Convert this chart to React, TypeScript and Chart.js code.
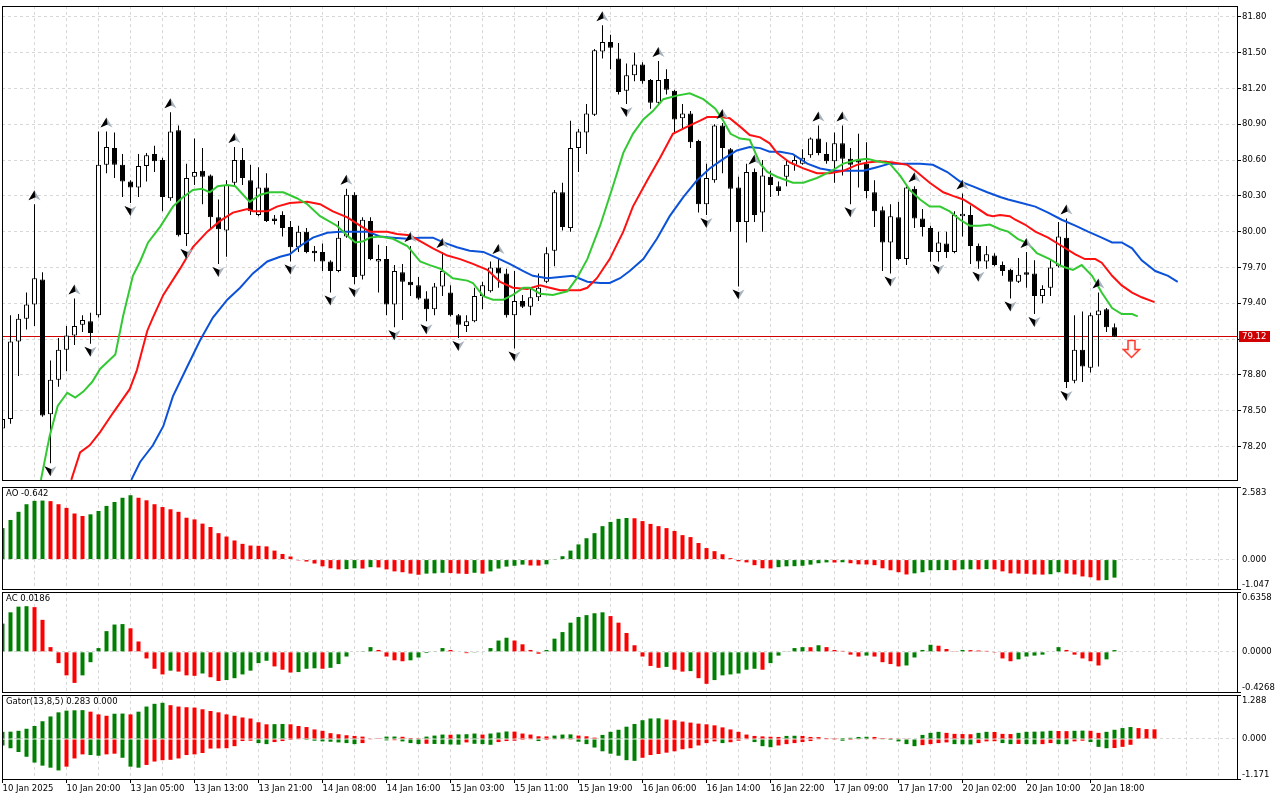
import React, { useEffect, useRef } from "react";
import { Chart, registerables } from "chart.js";

Chart.register(...registerables);

const FONT = "'DejaVu Sans', sans-serif";
Chart.defaults.font.family = FONT;
Chart.defaults.font.size = 8.5;

// ---- price data (hourly candles, bar index 0..139) ----
const opens = [
  78.35, 78.43, 79.08, 79.27, 79.39, 79.6, 78.47, 78.76, 79.01, 79.13, 79.22, 79.25, 79.3, 80.56, 80.7, 80.56, 80.42, 80.37, 80.55, 80.65,
  80.6, 80.28, 80.85, 79.98, 80.46, 80.51, 80.47, 80.12, 80.01, 80.41, 80.6, 80.43, 80.14, 80.37, 80.11, 80.14, 80.04, 79.87, 80.0, 79.84,
  79.83, 79.75, 79.67, 79.96, 80.31, 79.63, 80.09, 79.75, 79.77, 79.39, 79.66, 79.58, 79.55, 79.44, 79.35, 79.54, 79.49, 79.3, 79.21, 79.25,
  79.46, 79.5, 79.7, 79.65, 79.3, 79.42, 79.37, 79.45, 79.58, 79.84, 80.33, 80.03, 80.7, 80.83, 80.98, 81.51, 81.59, 81.45, 81.18, 81.31,
  81.4, 81.27, 81.08, 81.28, 81.18, 80.95, 80.99, 80.76, 80.23, 80.43, 80.89, 80.69, 80.37, 80.08, 80.5, 80.16, 80.46, 80.38, 80.46, 80.56,
  80.57, 80.64, 80.78, 80.65, 80.59, 80.74, 80.61, 80.6, 80.57, 80.33, 80.18, 79.91, 80.12, 79.77, 80.36, 80.11, 80.03, 79.83, 79.9, 79.83,
  80.13, 80.14, 79.88, 79.75, 79.8, 79.72, 79.68, 79.58, 79.66, 79.65, 79.46, 79.53, 79.71, 79.95, 78.75, 79.01, 78.86, 79.3, 79.35, 79.2,
];
const highs = [
  78.45, 79.3, 79.31, 79.49, 80.23, 79.66, 78.92, 79.11, 79.21, 79.44, 79.3, 79.32, 80.84, 80.84, 80.83, 80.65, 80.43, 80.65, 80.66, 80.72,
  80.62, 81.0, 80.89, 80.57, 80.78, 80.7, 80.48, 80.27, 80.43, 80.71, 80.7, 80.56, 80.54, 80.49, 80.14, 80.17, 80.09, 80.05, 80.03, 79.88,
  79.9, 79.76, 80.09, 80.36, 80.33, 80.12, 80.12, 79.89, 79.88, 79.72, 79.73, 79.88, 79.62, 79.5, 79.57, 79.83, 79.55, 79.31, 79.3, 79.53,
  79.58, 79.75, 79.78, 79.69, 79.67, 79.47, 79.52, 79.65, 79.87, 80.35, 80.41, 80.93, 80.86, 81.07, 81.53, 81.73, 81.65, 81.58, 81.41, 81.5,
  81.42, 81.28, 81.43, 81.36, 81.19, 81.07, 81.01, 80.77, 80.57, 80.9, 80.91, 80.7, 80.46, 80.57, 80.53, 80.6, 80.51, 80.42, 80.6, 80.64,
  80.69, 80.79, 80.89, 80.75, 80.83, 80.89, 80.7, 80.82, 80.75, 80.43, 80.21, 80.23, 80.25, 80.38, 80.38, 80.19, 80.05, 80.0, 80.0, 80.17,
  80.32, 80.22, 79.9, 79.88, 79.82, 79.75, 79.69, 79.78, 79.83, 79.76, 79.55, 79.77, 80.08, 80.11, 79.3, 79.33, 79.32, 79.49, 79.36, 79.23,
];
const lows = [
  78.3, 78.39, 78.79, 79.18, 79.21, 78.45, 78.06, 78.7, 78.83, 79.05, 79.16, 79.06, 79.28, 80.49, 80.45, 80.29, 80.24, 80.29, 80.42, 80.5,
  80.17, 80.26, 79.96, 79.88, 80.39, 80.23, 80.02, 79.73, 79.79, 80.39, 80.39, 80.14, 80.13, 80.08, 80.06, 79.96, 79.75, 79.83, 79.82, 79.75,
  79.67, 79.49, 79.66, 79.95, 79.56, 79.6, 79.76, 79.49, 79.3, 79.2, 79.26, 79.46, 79.43, 79.25, 79.3, 79.46, 79.29, 79.11, 79.16, 79.24,
  79.35, 79.49, 79.53, 79.28, 79.02, 79.36, 79.3, 79.42, 79.57, 79.71, 80.01, 80.0, 80.5, 80.65, 80.97, 81.45, 81.36, 81.15, 81.07, 81.26,
  81.24, 81.03, 81.07, 81.15, 80.83, 80.86, 80.7, 80.16, 80.14, 80.41, 80.49, 80.0, 79.54, 79.91, 80.08, 80.0, 80.29, 80.3, 80.38, 80.51,
  80.56, 80.62, 80.64, 80.57, 80.41, 80.47, 80.23, 80.37, 80.28, 80.04, 79.67, 79.65, 79.76, 79.72, 80.03, 79.96, 79.75, 79.75, 79.78, 79.82,
  79.96, 79.73, 79.69, 79.69, 79.71, 79.63, 79.44, 79.57, 79.53, 79.31, 79.4, 79.46, 79.7, 78.69, 78.73, 78.74, 78.82, 78.87, 79.16, 79.12,
];
const closes = [
  78.43, 79.08, 79.27, 79.39, 79.61, 78.46, 78.76, 79.01, 79.13, 79.21, 79.26, 79.15, 80.56, 80.71, 80.56, 80.42, 80.37, 80.55, 80.64, 80.59,
  80.29, 80.84, 79.97, 80.45, 80.5, 80.46, 80.12, 80.02, 80.39, 80.6, 80.45, 80.17, 80.37, 80.09, 80.09, 80.03, 79.87, 80.0, 79.83, 79.82,
  79.75, 79.67, 79.95, 80.31, 79.62, 80.1, 79.77, 79.77, 79.39, 79.67, 79.58, 79.55, 79.44, 79.35, 79.54, 79.67, 79.3, 79.22, 79.25, 79.46,
  79.55, 79.7, 79.65, 79.3, 79.42, 79.37, 79.45, 79.53, 79.82, 80.33, 80.04, 80.7, 80.84, 80.99, 81.52, 81.59, 81.54, 81.17, 81.31, 81.4,
  81.26, 81.08, 81.27, 81.19, 80.94, 80.99, 80.75, 80.23, 80.45, 80.89, 80.7, 80.36, 80.08, 80.5, 80.14, 80.47, 80.39, 80.34, 80.56, 80.6,
  80.62, 80.78, 80.66, 80.59, 80.74, 80.61, 80.56, 80.58, 80.34, 80.17, 79.91, 80.13, 79.77, 80.37, 80.11, 80.04, 79.83, 79.91, 79.83, 80.14,
  80.15, 79.88, 79.75, 79.81, 79.72, 79.67, 79.58, 79.64, 79.64, 79.46, 79.52, 79.7, 79.96, 78.74, 79.01, 78.87, 79.3, 79.34, 79.2, 79.12,
];

// ---- Alligator lines, [bar, price] ----
const jawPoints = [
  [16.1, 77.92], [17.2, 78.07], [18.8, 78.21], [20.1, 78.37], [21.3, 78.62], [23.1, 78.87], [24.7, 79.09], [26.3, 79.28], [28.1, 79.43],
  [29.7, 79.53], [31.3, 79.65], [33.1, 79.75], [34.7, 79.79], [35.9, 79.81], [37.2, 79.88], [38.8, 79.95], [40.6, 79.99], [42.2, 80.0],
  [45.6, 80.0], [47.2, 79.96], [48.8, 79.95], [50.6, 79.94], [52.2, 79.95], [53.8, 79.95], [55.1, 79.91], [56.8, 79.87], [58.4, 79.84],
  [60.1, 79.83], [61.8, 79.78], [63.4, 79.73], [65.1, 79.67], [66.3, 79.63], [68.1, 79.61], [69.7, 79.62], [71.3, 79.63], [73.1, 79.58],
  [74.7, 79.57], [75.9, 79.57], [77.2, 79.61], [78.4, 79.67], [80.1, 79.77], [81.8, 79.94], [83.4, 80.13], [85.1, 80.29], [86.8, 80.43],
  [88.4, 80.53], [90.1, 80.61], [91.8, 80.68], [93.4, 80.71], [94.7, 80.7], [95.9, 80.67], [97.2, 80.67], [98.8, 80.65], [100.6, 80.57],
  [102.2, 80.53], [103.8, 80.51], [106.0, 80.51], [107.6, 80.51], [109.3, 80.54], [110.9, 80.57], [114.7, 80.57], [116.3, 80.56],
  [118.1, 80.5], [119.7, 80.42], [121.3, 80.38], [123.1, 80.33], [124.7, 80.29], [125.7, 80.27], [127.4, 80.24], [129.1, 80.21],
  [130.7, 80.16], [132.4, 80.1], [134.1, 80.05], [135.7, 80.0], [137.4, 79.95], [138.7, 79.91], [139.9, 79.91], [141.2, 79.86],
  [142.4, 79.76], [144.1, 79.67], [145.7, 79.63], [146.9, 79.58],
];
const teethPoints = [
  [8.6, 77.92], [9.7, 78.15], [10.9, 78.21], [12.2, 78.32], [13.8, 78.48], [15.9, 78.68], [16.8, 78.84], [18.1, 79.17], [18.8, 79.28],
  [20.1, 79.47], [22.2, 79.69], [23.8, 79.87], [25.6, 80.0], [27.2, 80.09], [28.8, 80.16], [30.6, 80.19], [31.3, 80.17], [33.1, 80.17],
  [34.3, 80.21], [35.9, 80.24], [38.1, 80.25], [39.7, 80.23], [41.3, 80.17], [43.1, 80.12], [44.7, 80.05], [45.9, 80.0], [48.1, 80.0],
  [49.3, 79.98], [50.9, 79.97], [52.2, 79.92], [53.8, 79.86], [55.6, 79.8], [57.2, 79.77], [58.8, 79.73], [60.6, 79.68], [62.2, 79.58],
  [63.8, 79.53], [65.6, 79.52], [67.2, 79.55], [68.4, 79.53], [69.7, 79.51], [72.2, 79.51], [73.1, 79.53], [74.3, 79.61], [75.9, 79.77],
  [77.6, 80.0], [78.8, 80.21], [80.6, 80.43], [82.2, 80.62], [83.8, 80.82], [85.6, 80.88], [87.2, 80.93], [88.1, 80.96], [89.7, 80.96],
  [90.9, 80.95], [92.2, 80.88], [93.4, 80.81], [94.7, 80.79], [95.9, 80.74], [96.8, 80.66], [98.4, 80.58], [100.1, 80.53], [101.8, 80.49],
  [103.4, 80.49], [105.1, 80.51], [106.8, 80.56], [108.1, 80.58], [109.7, 80.59], [111.3, 80.58], [113.1, 80.56], [114.3, 80.5],
  [115.9, 80.41], [117.6, 80.33], [118.8, 80.3], [120.1, 80.27], [121.3, 80.22], [123.1, 80.14], [123.8, 80.13], [124.7, 80.14],
  [125.9, 80.13], [126.6, 80.1], [127.8, 80.06], [129.1, 80.0], [130.7, 79.95], [132.4, 79.88], [134.1, 79.81], [135.3, 79.77],
  [136.6, 79.77], [137.4, 79.74], [138.7, 79.63], [139.9, 79.55], [141.2, 79.49], [142.4, 79.45], [144.0, 79.41],
];
const lipsPoints = [
  [4.8, 77.92], [5.9, 78.29], [6.9, 78.54], [8.1, 78.65], [9.1, 78.61], [10.1, 78.66], [11.2, 78.74], [12.2, 78.85], [14.1, 78.97],
  [15.1, 79.3], [16.3, 79.63], [17.2, 79.75], [18.2, 79.91], [19.7, 80.04], [21.3, 80.21], [22.4, 80.28], [23.8, 80.35], [24.9, 80.36],
  [25.9, 80.33], [26.9, 80.38], [28.1, 80.39], [29.1, 80.38], [30.9, 80.25], [32.2, 80.31], [33.4, 80.33], [35.1, 80.33], [36.8, 80.28],
  [38.1, 80.23], [39.7, 80.13], [41.8, 80.05], [43.4, 79.95], [44.1, 79.91], [45.1, 79.92], [45.9, 79.95], [47.2, 79.96], [48.8, 79.94],
  [50.6, 79.88], [52.2, 79.75], [53.4, 79.72], [54.7, 79.69], [56.3, 79.61], [58.1, 79.59], [58.8, 79.57], [60.1, 79.46], [61.3, 79.43],
  [62.6, 79.43], [63.8, 79.47], [65.1, 79.53], [65.9, 79.53], [67.2, 79.48], [68.8, 79.47], [70.6, 79.5], [71.8, 79.61], [73.1, 79.77],
  [74.7, 80.05], [76.3, 80.38], [77.6, 80.66], [78.8, 80.82], [80.1, 80.94], [81.3, 81.01], [82.6, 81.11], [84.3, 81.14], [85.9, 81.16],
  [87.6, 81.11], [89.1, 81.03], [90.1, 80.93], [91.0, 80.82], [92.2, 80.78], [93.4, 80.77], [94.7, 80.57], [95.6, 80.5], [96.8, 80.46],
  [98.8, 80.41], [100.1, 80.41], [101.8, 80.45], [103.4, 80.5], [105.1, 80.57], [106.8, 80.6], [108.1, 80.61], [109.3, 80.59],
  [110.9, 80.57], [112.2, 80.47], [113.4, 80.35], [114.7, 80.27], [115.9, 80.21], [117.2, 80.21], [118.4, 80.17], [119.7, 80.1],
  [120.9, 80.05], [122.2, 80.05], [123.4, 80.06], [124.7, 80.02], [125.7, 80.0], [126.9, 79.94], [128.2, 79.9], [129.3, 79.82],
  [130.9, 79.77], [132.4, 79.71], [133.8, 79.68], [134.9, 79.72], [136.2, 79.63], [137.4, 79.49], [138.7, 79.36], [139.9, 79.31],
  [141.2, 79.31], [141.9, 79.29],
];

// ---- fractals (bar indices) and signal ----
const fractalUp = [4, 9, 13, 21, 29, 43, 51, 55, 62, 75, 82, 90, 94, 102, 105, 114, 120, 128, 133, 137];
const fractalDown = [6, 11, 16, 23, 27, 36, 41, 44, 49, 53, 57, 64, 78, 88, 92, 106, 111, 117, 122, 126, 129, 133];
const sellSignalBar = 141;
const sellSignalPrice = 79.09;
const lastPrice = 79.12;

// ---- Awesome Oscillator ----
const aoValues = [
  1.12, 1.41, 1.7, 1.97, 2.09, 2.1, 2.08, 1.97, 1.84, 1.64, 1.55, 1.61, 1.73, 1.91, 2.05, 2.2, 2.29, 2.2, 2.11, 1.97,
  1.87, 1.79, 1.7, 1.49, 1.43, 1.28, 1.16, 0.94, 0.82, 0.68, 0.56, 0.5, 0.49, 0.47, 0.32, 0.2, 0.11, -0.03, -0.07, -0.14,
  -0.24, -0.31, -0.35, -0.34, -0.31, -0.32, -0.27, -0.28, -0.35, -0.42, -0.45, -0.5, -0.54, -0.5, -0.49, -0.47, -0.48, -0.5, -0.51, -0.47,
  -0.5, -0.42, -0.32, -0.25, -0.22, -0.18, -0.21, -0.215, -0.17, 0.01, 0.12, 0.32, 0.54, 0.76, 0.94, 1.19, 1.34, 1.45, 1.48, 1.47,
  1.37, 1.27, 1.19, 1.12, 1.02, 0.87, 0.8, 0.59, 0.41, 0.3, 0.19, 0.05, -0.06, -0.1, -0.2, -0.31, -0.315, -0.27, -0.24, -0.235,
  -0.22, -0.18, -0.13, -0.1, -0.105, -0.095, -0.13, -0.17, -0.175, -0.2, -0.31, -0.38, -0.45, -0.53, -0.49, -0.45, -0.38, -0.375, -0.37, -0.38,
  -0.35, -0.345, -0.35, -0.34, -0.35, -0.42, -0.49, -0.5, -0.505, -0.53, -0.535, -0.52, -0.45, -0.5, -0.53, -0.6, -0.63, -0.74, -0.73, -0.642,
];
// ---- Accelerator Oscillator ----
const acValues = [
  0.3, 0.42, 0.48, 0.485, 0.475, 0.34, 0.05, -0.12, -0.25, -0.33, -0.25, -0.11, 0.04, 0.22, 0.29, 0.295, 0.25, 0.11, -0.07, -0.18,
  -0.24, -0.2, -0.21, -0.25, -0.255, -0.23, -0.27, -0.31, -0.3, -0.28, -0.24, -0.2, -0.12, -0.095, -0.155, -0.19, -0.22, -0.215, -0.18, -0.175,
  -0.18, -0.17, -0.13, -0.05, -0.005, 0.003, 0.05, 0.02, -0.05, -0.09, -0.1, -0.09, -0.06, -0.013, 0.004, 0.04, 0.02, -0.005, -0.014, -0.008,
  -0.006, 0.04, 0.12, 0.15, 0.12, 0.08, 0.02, -0.02, 0.02, 0.14, 0.21, 0.31, 0.37, 0.39, 0.41, 0.42, 0.38, 0.31, 0.2, 0.07,
  -0.05, -0.15, -0.17, -0.16, -0.19, -0.21, -0.205, -0.28, -0.34, -0.3, -0.25, -0.24, -0.23, -0.19, -0.18, -0.19, -0.12, -0.04, 0.007, 0.04,
  0.05, 0.049, 0.07, 0.05, 0.02, 0.01, -0.03, -0.05, -0.04, -0.05, -0.11, -0.13, -0.155, -0.145, -0.06, 0.02, 0.075, 0.065, 0.03, 0.003,
  0.02, 0.018, 0.014, 0.01, -0.002, -0.07, -0.1, -0.08, -0.05, -0.04, -0.03, 0.0, 0.05, 0.02, -0.03, -0.07, -0.1, -0.145, -0.08, 0.0186,
];
// ---- Gator Oscillator (upper above zero, lower as absolute size below zero) ----
const gatorUpper = [
  0.21, 0.215, 0.24, 0.3, 0.38, 0.52, 0.66, 0.78, 0.83, 0.84, 0.845, 0.8, 0.72, 0.68, 0.74, 0.745, 0.72, 0.8, 0.95, 1.03,
  1.06, 0.99, 0.95, 0.93, 0.92, 0.87, 0.82, 0.78, 0.72, 0.68, 0.63, 0.6, 0.49, 0.43, 0.435, 0.44, 0.43, 0.38, 0.35, 0.28,
  0.24, 0.17, 0.14, 0.11, 0.09, 0.07, 0.01, 0.005, 0.07, 0.072, 0.065, 0.03, 0.005, 0.07, 0.1, 0.13, 0.125, 0.135, 0.14, 0.16,
  0.13, 0.16, 0.19, 0.22, 0.215, 0.16, 0.13, 0.08, 0.075, 0.1, 0.13, 0.135, 0.1, 0.08, 0.04, 0.12, 0.21, 0.27, 0.36, 0.44,
  0.55, 0.6, 0.605, 0.57, 0.55, 0.51, 0.48, 0.45, 0.43, 0.4, 0.34, 0.28, 0.21, 0.13, 0.09, 0.076, 0.066, 0.06, 0.09, 0.095,
  0.09, 0.06, 0.055, 0.03, 0.025, 0.03, 0.035, 0.06, 0.065, 0.06, 0.03, 0.025, 0.02, 0.01, 0.015, 0.12, 0.18, 0.21, 0.18, 0.15,
  0.145, 0.14, 0.18, 0.21, 0.205, 0.15, 0.145, 0.18, 0.21, 0.215, 0.22, 0.24, 0.235, 0.23, 0.24, 0.245, 0.24, 0.18, 0.21, 0.27,
  0.32, 0.35, 0.32, 0.29, 0.283,
];
const gatorLower = [
  0.19, 0.27, 0.38, 0.52, 0.69, 0.78, 0.84, 0.92, 0.81, 0.57, 0.45, 0.47, 0.49, 0.45, 0.43, 0.55, 0.81, 0.84, 0.76, 0.66,
  0.62, 0.61, 0.57, 0.47, 0.45, 0.41, 0.28, 0.275, 0.27, 0.21, 0.06, 0.05, 0.12, 0.15, 0.09, 0.06, 0.03, 0.02, 0.03, 0.05,
  0.07, 0.08, 0.1, 0.12, 0.15, 0.12, 0.02, 0.015, 0.04, 0.035, 0.07, 0.12, 0.15, 0.14, 0.145, 0.15, 0.16, 0.165, 0.1, 0.14,
  0.15, 0.17, 0.09, 0.06, 0.05, 0.03, 0.02, 0.06, 0.03, 0.02, 0.01, 0.005, 0.08, 0.15, 0.25, 0.36, 0.43, 0.49, 0.62, 0.64,
  0.55, 0.47, 0.44, 0.4, 0.36, 0.3, 0.27, 0.19, 0.12, 0.07, 0.12, 0.095, 0.05, 0.02, 0.09, 0.21, 0.24, 0.19, 0.15, 0.12,
  0.09, 0.06, 0.02, 0.01, 0.005, 0.05, 0.03, 0.02, 0.01, 0.008, 0.02, 0.03, 0.07, 0.15, 0.21, 0.18, 0.15, 0.12, 0.1, 0.15,
  0.155, 0.16, 0.12, 0.07, 0.065, 0.12, 0.15, 0.145, 0.15, 0.155, 0.15, 0.12, 0.15, 0.155, 0.07, 0.05, 0.09, 0.23, 0.27, 0.265,
  0.23, 0.17,
];

// ---- axis labels ----
const priceTicks = [78.2, 78.5, 78.8, 79.1, 79.4, 79.7, 80.0, 80.3, 80.6, 80.9, 81.2, 81.5, 81.8];
const hiddenPriceTicks = [79.1]; // covered by the last-price box
const timeLabels = [
  "10 Jan 2025", "10 Jan 20:00", "13 Jan 05:00", "13 Jan 13:00", "13 Jan 21:00", "14 Jan 08:00",
  "14 Jan 16:00", "15 Jan 03:00", "15 Jan 11:00", "15 Jan 19:00", "16 Jan 06:00", "16 Jan 14:00",
  "16 Jan 22:00", "17 Jan 09:00", "17 Jan 17:00", "20 Jan 02:00", "20 Jan 10:00", "20 Jan 18:00",
];
const timeLabelBars = [0, 8, 16, 24, 32, 40, 48, 56, 64, 72, 80, 88, 96, 104, 112, 120, 128, 136];
const aoRange = [-1.047, 2.583];
const acRange = [-0.4268, 0.6358];
const gatorRange = [-1.171, 1.288];

const GRID = "#d8d8d8";
const GREEN = "#008000";
const RED = "#ff0000";
const PRICE_RED = "#d00000";
const X_MIN = -0.0625;
const X_MAX = 154.3125;
const AXIS_W = 43;

const upDownColors = (vals: number[]) => vals.map((v, i) => (i === 0 || v > vals[i - 1] ? GREEN : RED));

function xScale(withLabels: boolean): any {
  return {
    type: "linear",
    min: X_MIN,
    max: X_MAX,
    offset: false,
    afterBuildTicks: (s: any) => {
      const t = [];
      for (let v = 0; v <= X_MAX; v += 4) t.push({ value: v });
      s.ticks = t;
    },
    afterFit: (s: any) => {
      s.height = withLabels ? 21 : 0;
    },
    grid: {
      color: GRID,
      offset: false,
      drawTicks: withLabels,
      tickLength: 4,
      tickBorderDash: [],
      tickColor: (c: any) => (timeLabelBars.includes(c.tick && c.tick.value) ? "#000" : "rgba(0,0,0,0)"),
    },
    border: { display: false, dash: [3, 3] },
    ticks: {
      display: withLabels,
      autoSkip: false,
      maxRotation: 0,
      minRotation: 0,
      align: "start",
      padding: 1,
      color: "#000",
      font: { family: FONT, size: 8.5 },
      callback: (v: number) => {
        const i = timeLabelBars.indexOf(v);
        return i >= 0 ? timeLabels[i] : "";
      },
    },
  };
}

function subYScale(range: number[]): any {
  return {
    type: "linear",
    position: "right",
    min: range[0],
    max: range[1],
    afterBuildTicks: (s: any) => {
      s.ticks = [{ value: 0 }];
    },
    afterFit: (s: any) => {
      s.width = AXIS_W;
    },
    grid: { color: GRID, drawTicks: false },
    border: { display: false, dash: [3, 3] },
    ticks: { display: false },
  };
}

const framePlugin = {
  id: "frame",
  afterDraw(chart: any) {
    const { ctx, chartArea: a } = chart;
    ctx.save();
    ctx.setLineDash([]);
    ctx.strokeStyle = "#000";
    ctx.lineWidth = 1;
    ctx.strokeRect(Math.round(a.left) + 0.5, Math.round(a.top) + 0.5, Math.round(a.right - a.left), Math.round(a.bottom - a.top));
    ctx.restore();
  },
};

function panelLabels(title: string, range: number[], digits: number) {
  return {
    id: "panelLabels",
    afterDraw(chart: any) {
      const { ctx, chartArea: a, scales } = chart;
      const top = Math.round(a.top) + 0.5;
      const bottom = Math.round(a.bottom) + 0.5;
      const right = Math.round(a.right);
      ctx.save();
      ctx.setLineDash([]);
      ctx.strokeStyle = "#000";
      ctx.lineWidth = 1;
      ctx.beginPath();
      ctx.moveTo(right, top);
      ctx.lineTo(right + 4, top);
      ctx.moveTo(right, bottom);
      ctx.lineTo(right + 4, bottom);
      ctx.stroke();
      ctx.fillStyle = "#000";
      ctx.font = `8.5px ${FONT}`;
      ctx.textAlign = "left";
      ctx.textBaseline = "top";
      ctx.fillText(title, a.left + 4, a.top + 3);
      ctx.textBaseline = "middle";
      const x = right + 5;
      ctx.fillText(range[1].toFixed(digits), x, a.top + 6);
      ctx.fillText((0).toFixed(digits), x, scales.y.getPixelForValue(0));
      ctx.fillText(range[0].toFixed(digits), x, a.bottom - 4.5);
      ctx.restore();
    },
  };
}

function drawFractal(ctx: CanvasRenderingContext2D, x: number, y: number, up: boolean) {
  const d = up ? 1 : -1;
  ctx.beginPath();
  ctx.moveTo(x, y - 5 * d);
  ctx.lineTo(x + 6, y + 5 * d);
  ctx.lineTo(x, y + 2 * d);
  ctx.lineTo(x - 6, y + 5 * d);
  ctx.closePath();
  ctx.fillStyle = "#a9b3bd";
  ctx.fill();
  ctx.beginPath();
  ctx.moveTo(x, y - 5 * d);
  ctx.lineTo(x + 1, y + 2 * d);
  ctx.lineTo(x - 6, y + 5 * d);
  ctx.closePath();
  ctx.fillStyle = "#000";
  ctx.fill();
}

const overlayPlugin = {
  id: "overlay",
  beforeDatasetsDraw(chart: any) {
    // last-price line sits under the candles
    const { ctx, chartArea: a, scales } = chart;
    const y = Math.round(scales.y.getPixelForValue(lastPrice)) - 0.5;
    ctx.save();
    ctx.setLineDash([]);
    ctx.strokeStyle = PRICE_RED;
    ctx.lineWidth = 1;
    ctx.beginPath();
    ctx.moveTo(a.left, y);
    ctx.lineTo(a.right, y);
    ctx.stroke();
    ctx.restore();
  },
  afterDatasetsDraw(chart: any) {
    const { ctx, scales, chartArea: a } = chart;
    ctx.save();
    ctx.beginPath();
    ctx.rect(a.left, a.top, a.right - a.left, a.bottom - a.top);
    ctx.clip();
    fractalUp.forEach((k) => drawFractal(ctx, scales.x.getPixelForValue(k), scales.y.getPixelForValue(highs[k]) - 9, true));
    fractalDown.forEach((k) => drawFractal(ctx, scales.x.getPixelForValue(k), scales.y.getPixelForValue(lows[k]) + 8, false));
    // sell signal arrow
    const sx = Math.round(scales.x.getPixelForValue(sellSignalBar)) + 0.5;
    const sy = Math.round(scales.y.getPixelForValue(sellSignalPrice)) + 0.5;
    ctx.beginPath();
    ctx.moveTo(sx - 3.5, sy);
    ctx.lineTo(sx + 3.5, sy);
    ctx.lineTo(sx + 3.5, sy + 9);
    ctx.lineTo(sx + 8, sy + 9);
    ctx.lineTo(sx, sy + 17);
    ctx.lineTo(sx - 8, sy + 9);
    ctx.lineTo(sx - 3.5, sy + 9);
    ctx.closePath();
    const g = ctx.createLinearGradient(sx - 8, 0, sx + 8, 0);
    g.addColorStop(0, "#ffd0d0");
    g.addColorStop(0.5, "#ffffff");
    g.addColorStop(1, "#ffd0d0");
    ctx.fillStyle = g;
    ctx.fill();
    ctx.strokeStyle = "#ff3a2a";
    ctx.lineWidth = 1.5;
    ctx.stroke();
    ctx.restore();
  },
  afterDraw(chart: any) {
    const { ctx, chartArea: a, scales } = chart;
    const y = Math.round(scales.y.getPixelForValue(lastPrice));
    ctx.save();
    ctx.fillStyle = PRICE_RED;
    ctx.fillRect(Math.round(a.right) + 2, y - 6, 31, 11);
    ctx.fillStyle = "#fff";
    ctx.font = `8.5px ${FONT}`;
    ctx.textBaseline = "middle";
    ctx.textAlign = "left";
    ctx.fillText(lastPrice.toFixed(2), Math.round(a.right) + 5, y);
    ctx.restore();
  },
};

const baseOptions = (padding: any) => ({
  animation: false as const,
  responsive: false,
  events: [],
  layout: { padding },
  plugins: { legend: { display: false }, tooltip: { enabled: false } },
});

const line = (pts: number[][], color: string) => ({
  type: "line",
  data: pts.map((p) => ({ x: p[0], y: p[1] })),
  borderColor: color,
  borderWidth: 2,
  pointRadius: 0,
  tension: 0,
  order: 0,
});

function buildMain(canvas: HTMLCanvasElement) {
  const bars = opens.map((_, k) => k);
  return new Chart(canvas, {
    type: "bar",
    data: {
      datasets: [
        line(lipsPoints, "#33c933"),
        line(teethPoints, "#ff1010"),
        line(jawPoints, "#0b52d8"),
        {
          type: "bar",
          data: bars.map((k) => ({ x: k, y: [opens[k], closes[k]] })),
          backgroundColor: bars.map((k) => (closes[k] >= opens[k] ? "#ffffff" : "#000000")),
          borderColor: "#000",
          borderWidth: 1,
          borderSkipped: false,
          barThickness: 5,
          grouped: false,
          inflateAmount: 0,
          order: 1,
        },
        {
          type: "bar",
          data: bars.map((k) => ({ x: k, y: [lows[k], highs[k]] })),
          backgroundColor: "#000",
          barThickness: 1,
          grouped: false,
          inflateAmount: 0,
          order: 2,
        },
      ] as any,
    },
    options: {
      ...baseOptions({ left: 2, top: 3, right: 0, bottom: 1 }),
      scales: {
        x: xScale(false),
        y: {
          type: "linear",
          position: "right",
          min: 77.92,
          max: 81.89,
          afterBuildTicks: (s: any) => {
            s.ticks = priceTicks.map((v) => ({ value: v }));
          },
          afterFit: (s: any) => {
            s.width = AXIS_W;
          },
          grid: { color: GRID, tickColor: "#000", tickLength: 4, tickBorderDash: [] },
          border: { display: false, dash: [3, 3] },
          ticks: {
            color: "#000",
            padding: 1,
            font: { family: FONT, size: 8.5 },
            callback: (v: any) => (hiddenPriceTicks.includes(v) ? "" : Number(v).toFixed(2)),
          },
        },
      },
    } as any,
    plugins: [framePlugin, overlayPlugin],
  });
}

function histogram(vals: number[], colors: string[]) {
  return {
    type: "bar",
    data: vals.map((v, k) => ({ x: k, y: v })),
    backgroundColor: colors,
    barThickness: 4,
    grouped: false,
    inflateAmount: 0,
  };
}

function buildAO(canvas: HTMLCanvasElement) {
  return new Chart(canvas, {
    type: "bar",
    data: { datasets: [histogram(aoValues, upDownColors(aoValues))] as any },
    options: { ...baseOptions({ left: 2, top: 0, right: 0, bottom: 2 }), scales: { x: xScale(false), y: subYScale(aoRange) } } as any,
    plugins: [framePlugin, panelLabels(`AO ${aoValues[aoValues.length - 1].toFixed(3)}`, aoRange, 3)],
  });
}

function buildAC(canvas: HTMLCanvasElement) {
  return new Chart(canvas, {
    type: "bar",
    data: { datasets: [histogram(acValues, upDownColors(acValues))] as any },
    options: { ...baseOptions({ left: 2, top: 1, right: 0, bottom: 2 }), scales: { x: xScale(false), y: subYScale(acRange) } } as any,
    plugins: [framePlugin, panelLabels(`AC ${acValues[acValues.length - 1].toFixed(4)}`, acRange, 4)],
  });
}

function buildGator(canvas: HTMLCanvasElement) {
  const lowerNeg = gatorLower.map((v) => -v);
  const title = `Gator(13,8,5) ${gatorUpper[gatorUpper.length - 1].toFixed(3)} ${(0).toFixed(3)}`;
  return new Chart(canvas, {
    type: "bar",
    data: {
      datasets: [histogram(gatorUpper, upDownColors(gatorUpper)), histogram(lowerNeg, upDownColors(gatorLower))] as any,
    },
    options: { ...baseOptions({ left: 2, top: 1, right: 0, bottom: 0 }), scales: { x: xScale(true), y: subYScale(gatorRange) } } as any,
    plugins: [framePlugin, panelLabels(title, gatorRange, 3)],
  });
}

function Panel({ top, height, build }: { top: number; height: number; build: (c: HTMLCanvasElement) => Chart }) {
  const ref = useRef<HTMLCanvasElement>(null);
  useEffect(() => {
    if (!ref.current) return;
    const chart = build(ref.current);
    return () => chart.destroy();
  }, []);
  return (
    <canvas
      ref={ref}
      width={1280}
      height={height}
      style={{ position: "absolute", left: 0, top, width: 1280, height, display: "block" }}
    />
  );
}

export default function App() {
  return (
    <div style={{ position: "absolute", left: 0, top: 0, width: 1280, height: 800, background: "#fff", overflow: "hidden" }}>
      <Panel top={0} height={486} build={buildMain} />
      <Panel top={487} height={104} build={buildAO} />
      <Panel top={591} height={103} build={buildAC} />
      <Panel top={694} height={106} build={buildGator} />
    </div>
  );
}
